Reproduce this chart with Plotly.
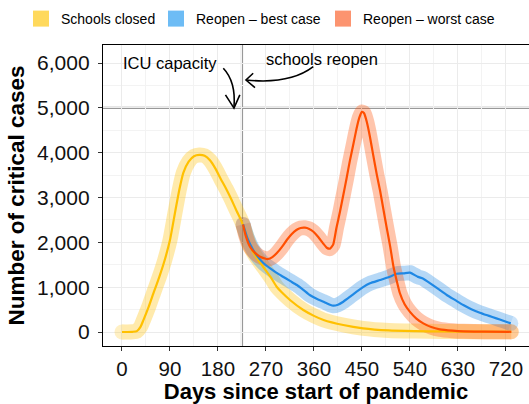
import plotly.graph_objects as go

# schools closed scenario (days, critical cases)
closed_days = [0, 10, 20, 28, 35, 40, 50, 60, 70, 80, 90, 100, 108, 115, 125, 135, 145,
               155, 165, 175, 185, 195, 205, 215, 224, 232, 240, 250, 265, 280, 290, 300,
               315, 340, 360, 378, 415, 452, 500, 550, 600, 660, 730]
closed_vals = [0, 0, 5, 20, 120, 260, 560, 900, 1230, 1600, 2050, 2700, 3200, 3550, 3800,
               3920, 3950, 3930, 3830, 3650, 3420, 3200, 2960, 2700, 2480, 2200, 1920, 1700,
               1450, 1200, 1010, 880, 714, 490, 360, 268, 156, 82, 35, 20, 12, 8, 5]

# reopen, best case
best_days = [227, 235, 245, 252, 265, 278, 290, 302, 315, 328, 340, 352, 365, 378, 390, 396,
             405, 415, 428, 440, 452, 465, 484, 502, 515, 528, 540, 555, 565, 578, 593, 609,
             625, 640, 655, 671, 687, 702, 715, 729]
best_vals = [2400, 2100, 1850, 1720, 1540, 1420, 1320, 1234, 1140, 1048, 940, 825, 740, 676,
             610, 587, 610, 676, 790, 899, 1000, 1086, 1160, 1234, 1300, 1310, 1323, 1230,
             1190, 1086, 960, 825, 710, 602, 510, 431, 365, 305, 250, 193]

# reopen, worst case
worst_days = [227, 232, 240, 250, 259, 268, 274, 282, 290, 300, 309, 318, 327, 335, 343, 351,
              359, 368, 377, 384, 390, 396, 402, 409, 415, 421, 427, 434, 440, 445, 450, 454,
              459, 465, 471, 478, 484, 490, 496, 503, 509, 515, 521, 530, 540, 552, 565, 580,
              596, 620, 640, 680, 730]
worst_vals = [2400, 2150, 1903, 1760, 1680, 1640, 1628, 1670, 1755, 1900, 2052, 2180, 2275,
              2320, 2327, 2300, 2237, 2120, 1978, 1880, 1860, 1950, 2313, 2700, 3056, 3420,
              3800, 4200, 4543, 4780, 4910, 4880, 4690, 4350, 3950, 3500, 3150, 2750, 2350,
              1900, 1460, 1150, 870, 620, 450, 300, 193, 110, 60, 30, 15, 8, 5]

icu_capacity = 5000
reopen_day = 225

x_ticks = [0, 90, 180, 270, 360, 450, 540, 630, 720]
y_ticks = [0, 1000, 2000, 3000, 4000, 5000, 6000]

series = [
    ("Schools closed", closed_days, closed_vals, "#FFC000", "#FFD95C"),
    ("Reopen \u2013 best case", best_days, best_vals, "#1E88E5", "#6DBCF5"),
    ("Reopen \u2013 worst case", worst_days, worst_vals, "#FF4E00", "#FC9470"),
]
band_width = 15
# left edge (px) of each legend entry, one legend per entry so they sit in one row
legend_left = [21, 156, 323]

fig = go.Figure()

# thick translucent bands first (group opacity, round caps via end markers)
for name, d, v, lc, sw in series:
    caps = [band_width] + [0] * (len(d) - 2) + [band_width]
    fig.add_trace(go.Scatter(x=d, y=v, mode="lines+markers", showlegend=False,
                             hoverinfo="skip", opacity=0.32,
                             marker=dict(size=caps, color=lc, line=dict(width=0)),
                             line=dict(color=lc, width=band_width, shape="spline",
                                       smoothing=0.5)))
for name, d, v, lc, sw in series:
    fig.add_trace(go.Scatter(x=d, y=v, mode="lines", showlegend=False, name=name,
                             line=dict(color=lc, width=2.2, shape="spline", smoothing=0.5)))
# legend swatches
for i, (name, d, v, lc, sw) in enumerate(series):
    fig.add_trace(go.Scatter(x=[None], y=[None], mode="markers", name=name,
                             legend="legend" if i == 0 else f"legend{i + 1}",
                             marker=dict(symbol="square", size=16, color=sw)))

fig.add_hline(y=icu_capacity, line=dict(color="#999999", width=2.2), layer="below")
fig.add_vline(x=reopen_day, line=dict(color="#999999", width=2.2), layer="below")

# hand drawn style arrows
arrow = dict(color="black", width=1.6)
fig.add_shape(type="path", path="M 190,5882 Q 214,5580 210,5010", line=arrow)
fig.add_shape(type="path", path="M 194,5290 L 210,4995 L 221,5290", line=arrow)
fig.add_shape(type="path", path="M 358.7,5918 Q 315,5520 233,5621", line=arrow)
fig.add_shape(type="path", path="M 246,5771 L 232.5,5621 L 249.4,5450", line=arrow)

fig.add_annotation(x=90, y=6000, text="ICU capacity", showarrow=False,
                   font=dict(size=16.5, color="black"))
fig.add_annotation(x=375, y=6090, text="schools reopen", showarrow=False,
                   font=dict(size=16.5, color="black"))

fig.update_xaxes(range=[-35.6, 763.2], tickvals=x_ticks, ticks="outside", ticklen=4,
                 tickcolor="#333", showline=True, linecolor="black", linewidth=1.3,
                 mirror=True, gridcolor="#EBEBEB", gridwidth=1.2, zeroline=False,
                 automargin=False,
                 minor=dict(dtick=45, tick0=0, showgrid=True, gridcolor="#F3F3F3",
                            gridwidth=1),
                 tickfont=dict(size=20.5, color="#111"),
                 title=dict(text="<b>Days since start of pandemic</b>",
                            font=dict(size=22, color="black"), standoff=0))
fig.update_yaxes(range=[-312, 6402], tickvals=y_ticks, tickformat=",", ticks="outside",
                 ticklen=4, tickcolor="#333", showline=True, linecolor="black",
                 linewidth=1.3, gridcolor="#EBEBEB", gridwidth=1.2, zeroline=False,
                 automargin=False, ticklabelstandoff=4,
                 minor=dict(dtick=500, tick0=0, showgrid=True, gridcolor="#F3F3F3",
                            gridwidth=1),
                 tickfont=dict(size=21, color="#111"),
                 title=dict(text="<b>Number of critical cases</b>",
                            font=dict(size=22.5, color="black"), standoff=6))

legend_style = dict(orientation="h", xref="container", yref="container", xanchor="left",
                    y=1 - 19 / 404, yanchor="middle", itemwidth=30,
                    font=dict(size=14, color="black"), bgcolor="rgba(0,0,0,0)")
fig.update_layout(
    width=529, height=404,
    margin=dict(l=103, r=0, t=45, b=58, autoexpand=False),
    paper_bgcolor="white", plot_bgcolor="white",
    font=dict(family="Liberation Sans, Arial, sans-serif", color="black"),
    legend=dict(legend_style, x=legend_left[0] / 529),
    legend2=dict(legend_style, x=legend_left[1] / 529),
    legend3=dict(legend_style, x=legend_left[2] / 529),
)

# drop the browser's default body margin so the figure sits at the page corner
fig.write_html("out.html", config={"displayModeBar": False},
               post_script="document.body.style.margin='0';")
